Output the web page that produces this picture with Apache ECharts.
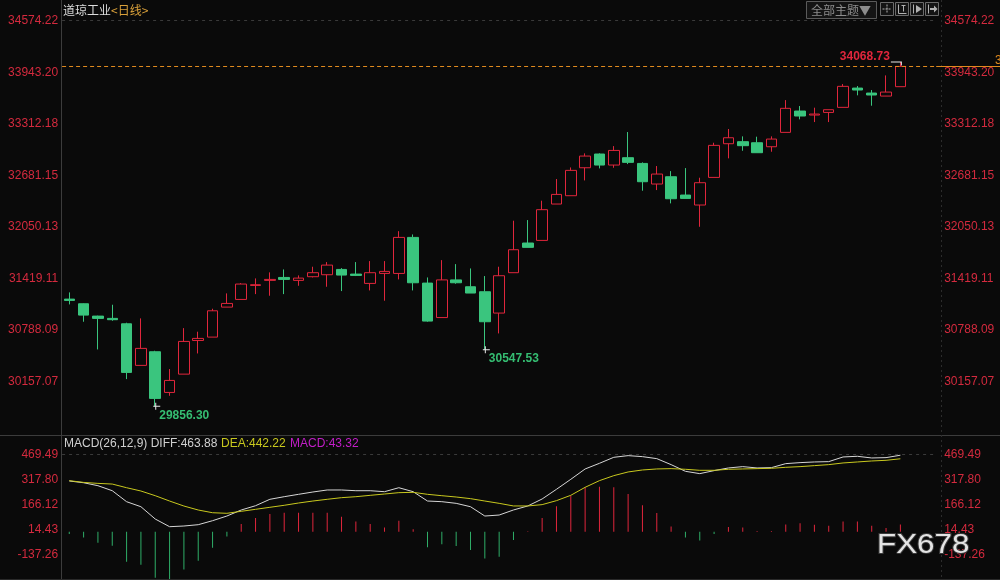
<!DOCTYPE html>
<html>
<head>
<meta charset="utf-8">
<script src="https://cdn.jsdelivr.net/npm/echarts@6/dist/echarts.min.js"></script>
<style>
html,body{margin:0;padding:0;background:#0a0a0a;}
#c{width:1000px;height:580px;}
</style>
</head>
<body>
<div id="c"></div>
<script>
// ---------- data ----------
const categories = ['1','2','3','4','5','6','7','8','9','10','11','12','13','14','15','16','17','18','19','20',
  '21','22','23','24','25','26','27','28','29','30','31','32','33','34','35','36','37','38','39','40',
  '41','42','43','44','45','46','47','48','49','50','51','52','53','54','55','56','57','58','59','60','61'];

const opens  = [31168,31111,30960,30932,30866,30357,30524,30026,30250,30662,
                30703,31070,31164,31335,31397,31433,31397,31442,31466,31531,
                31474,31360,31482,31482,31923,31364,30942,31403,31319,31258,
                30997,31491,31854,31886,32331,32433,32775,32943,32808,32898,
                32828,32576,32665,32441,32319,32657,33069,33094,33081,33032,
                33208,33469,33420,33452,33514,33750,33689,33652,33767];
const closes = [31152,30972,30932,30916,30271,30565,29953,30173,30650,30687,
                31025,31115,31352,31344,31409,31409,31425,31491,31584,31462,
                31458,31491,31507,31923,31368,30899,31403,31368,31242,30891,
                31454,31772,31801,32262,32449,32743,32918,32808,32987,32841,
                32604,32698,32396,32400,32592,33049,33142,33045,32959,33126,
                33502,33408,33432,33485,33771,33726,33665,33701,34015];
const lows   = [31103,30891,30552,30903,30189,30357,29856.30,29985,30250,30503,
                30703,31070,31164,31229,31209,31229,31331,31433,31319,31266,
                31450,31274,31148,31409,31274,30891,30942,31356,31242,30547.53,
                30748,31491,31801,31886,32331,32433,32620,32767,32775,32820,
                32494,32502,32339,32400,32053,32657,32890,32983,32959,32971,
                33208,33367,33334,33334,33514,33661,33534,33652,33767];
const highs  = [31250,31115,30965,31099,30879,30932,30536,30312,30813,30769,
                31050,31238,31364,31421,31495,31531,31458,31564,31621,31547,
                31621,31633,31633,31999,31959,31433,31645,31596,31543,31450,
                31564,32127,32135,32372,32637,32779,32951,32951,33040,33212,
                32841,32796,32734,32771,32653,33081,33249,33159,33155,33159,
                33603,33530,33510,33485,33799,33775,33726,33905,34068.73];

const diffValues = [307.5,297,279,248.6,181.9,151.5,76.8,30.2,34.4,42.4,
                    66.6,95,131.5,157.6,196.4,212.3,226.7,240.7,252.9,253,
                    248.6,248.6,242.6,266.8,242.6,186,182,172,151.5,95,
                    101,131.7,156,198.4,257.1,317.8,380.5,414.9,451.3,461.4,
                    455.3,443.2,406.8,366.3,352.2,370.4,386.6,394.7,386.6,388.6,
                    412.9,418.9,423,425,453.3,457.4,447.2,449.3,463.88];
const deaValues  = [309.5,299,293,289,266.8,246.8,218.3,186,155.7,131.5,
                    115,111.5,123.6,135.7,147.9,160,174,186,196.4,206.4,
                    212.3,220.5,228.6,236.7,238.7,226.7,218.3,210.4,200.4,186,
                    172,156,156,164.1,188.3,220.7,269.2,309.7,340,362.3,
                    374.4,380.5,382.5,378.5,372.4,372.4,378.5,380.5,382.5,384.5,
                    390.6,394.7,400.7,406.8,416.9,423,429,433.1,442.22];
const macdValues = [-14,-36,-67,-85,-182,-200,-279,-287,-229,-176,
                    -97,-30,46,83,107,115,115,115,115,91,
                    61,47,26,67,14,-95,-77,-87,-111,-162,
                    -152,-51,3,83,154,218,269,273,269,229,
                    160,113,32,-36,-53,-14,28,26,4,4,
                    44,51,42,36,61,61,36,22,43.32];

const priceTickLabels = ['30157.07','30788.09','31419.11','32050.13','32681.15','33312.18','33943.20','34574.22'];
const macdTickLabels  = ['-137.26','14.43','166.12','317.80','469.49'];

const extremeHigh = [{index:58, value:34068.73}];
const extremeLows = [{index:29, value:30547.53},{index:6, value:29856.30}];

const macdHeader = {diff:'463.88', dea:'442.22', macd:'43.32'};

// ---------- styles ----------
const BG = '#0a0a0a';
const RED = '#e0263c';
const GREEN = '#3ac57e';
const HGREEN = '#2fae68';
const AXRED = '#d42a3e';
const FONT = '"Liberation Sans", Arial, sans-serif';
const CJK = '"Noto Sans CJK SC", sans-serif';

const priceMax = parseFloat(priceTickLabels[priceTickLabels.length-1]);
const priceStep = (priceMax - parseFloat(priceTickLabels[0])) / (priceTickLabels.length-1);
const priceMin = parseFloat(priceTickLabels[0]) - priceStep;
const macdMax = parseFloat(macdTickLabels[macdTickLabels.length-1]);
const macdStep = (macdMax - parseFloat(macdTickLabels[0])) / (macdTickLabels.length-1);
const macdMin = parseFloat(macdTickLabels[0]) - macdStep;

function labelFrom(list){
  return function(v){
    for (const s of list){ if (Math.abs(parseFloat(s) - v) < 0.05) return s; }
    return '';
  };
}

const GL = 62.1, GW = 874.1;

const candleData = opens.map((o,i)=>[o, closes[i], lows[i], highs[i]]);
const lastIdx = closes.length - 1;

function yAxisCfg(grid, pos, min, max, step, list){
  return {
    type:'value', gridIndex:grid, position:pos, min:min, max:max, interval:step, scale:true,
    axisLine:{show:false}, axisTick:{show:false}, splitLine:{show:false},
    axisLabel:{color:AXRED, fontSize:12, fontFamily:FONT, margin: pos==='left'?4:8,
      align: pos==='left'?'right':'left', formatter: labelFrom(list)}
  };
}
function xAxisCfg(grid){
  return {type:'category', gridIndex:grid, data:categories, boundaryGap:true,
    axisLine:{show:false}, axisTick:{show:false}, axisLabel:{show:false}, splitLine:{show:false}};
}

const markPts = [];
extremeHigh.forEach(m=>markPts.push({
  coord:[m.index, m.value], value:m.value.toFixed(2),
  symbol:'path://M0,0h11v1h-11z M10,0h1v4h-1z', symbolSize:[11,4], symbolOffset:[-4,1.5],
  itemStyle:{color:'#e8e8e8'},
  label:{show:true, position:'left', distance:1, offset:[0,-7], color:RED, fontSize:12, fontWeight:'bold', fontFamily:FONT, formatter:'{c}'}
}));
extremeLows.forEach(m=>markPts.push({
  coord:[m.index, m.value], value:m.value.toFixed(2),
  symbol:'path://M0,3h7v1h-7z M2,0h1v7h-1z', symbolSize:[7,7], symbolOffset:[1.5,0],
  itemStyle:{color:'#e8e8e8'},
  label:{show:true, position:'right', distance:0, offset:[-1,9], color:'#35bd72', fontSize:12, fontWeight:'bold', fontFamily:FONT, formatter:'{c}'}
}));

const option = {
  backgroundColor: BG,
  animation:false,
  grid:[
    {left:GL, width:GW, top:20.7, height:412.6},
    {left:GL, width:GW, top:454.3, height:125}
  ],
  xAxis:[xAxisCfg(0), xAxisCfg(1)],
  yAxis:[
    yAxisCfg(0,'left',priceMin,priceMax,priceStep,priceTickLabels),
    yAxisCfg(0,'right',priceMin,priceMax,priceStep,priceTickLabels),
    yAxisCfg(1,'left',macdMin,macdMax,macdStep,macdTickLabels),
    yAxisCfg(1,'right',macdMin,macdMax,macdStep,macdTickLabels)
  ],
  series:[
    {
      type:'candlestick', xAxisIndex:0, yAxisIndex:0, data:candleData, barWidth:11,
      itemStyle:{color:BG, color0:GREEN, borderColor:RED, borderColor0:GREEN, borderWidth:1},
      markLine:{silent:true, symbol:'none', label:{show:false},
        data:[
          {yAxis: closes[lastIdx], lineStyle:{color:'#e08a1e', type:[4,3], width:1}},
          {yAxis: priceMax, lineStyle:{color:'#3a3a3a', type:[3,4], width:1}}
        ]},
      markPoint:{silent:true, data:markPts}
    },
    {
      type:'bar', xAxisIndex:1, yAxisIndex:2, barWidth:1,
      data: macdValues.map(v=>({value:v, itemStyle:{color: v>=0?RED:HGREEN}})),
      markLine:{silent:true, symbol:'none', label:{show:false},
        data:[{yAxis: macdMax, lineStyle:{color:'#3a3a3a', type:[3,4], width:1}}]}
    },
    {type:'line', xAxisIndex:1, yAxisIndex:2, data:diffValues, symbol:'none',
      lineStyle:{color:'#d6d6d6', width:1}},
    {type:'line', xAxisIndex:1, yAxisIndex:2, data:deaValues, symbol:'none',
      lineStyle:{color:'#c8c81e', width:1}}
  ]
};

const chart = echarts.init(document.getElementById('c'), null, {renderer:'canvas'});
chart.setOption(option);

// ---------- decorations ----------
const yClose = chart.convertToPixel({yAxisIndex:0}, closes[lastIdx]);
const gRight = GL + GW;
const lineStyle = c => ({stroke:c, lineWidth:1});
const g = [];
// frame lines
g.push({type:'line', shape:{x1:61.5,y1:0,x2:61.5,y2:580}, style:lineStyle('#3c3c3c'), silent:true});
g.push({type:'line', shape:{x1:0,y1:435.5,x2:1000,y2:435.5}, style:lineStyle('#3c3c3c'), silent:true});
g.push({type:'line', shape:{x1:0,y1:579.5,x2:1000,y2:579.5}, style:lineStyle('#2a2a2a'), silent:true});
g.push({type:'line', shape:{x1:941.5,y1:0,x2:941.5,y2:580}, style:{stroke:'#2c2c2c', lineWidth:1, lineDash:[2,3]}, silent:true});
// orange close extension
g.push({type:'line', shape:{x1:gRight,y1:Math.round(yClose)+0.5,x2:1000,y2:Math.round(yClose)+0.5}, style:lineStyle('#e08a1e'), silent:true});
g.push({type:'text', x:995, y:yClose-6, style:{text:'3', fill:'#e08a1e', font:'12px '+FONT, verticalAlign:'middle'}, silent:true});
// title
g.push({type:'text', x:63, y:10, style:{
  text:'{a|道琼工业}{b|<日线>}', verticalAlign:'middle',
  rich:{a:{fill:'#dcdcdc', font:'12px '+CJK}, b:{fill:'#d9a03a', font:'12px '+CJK}}
}, silent:true});
// macd header
g.push({type:'text', x:64, y:444, style:{text:'MACD(26,12,9) DIFF:'+macdHeader.diff, fill:'#d0d0d0', font:'12px '+FONT, verticalAlign:'middle'}, silent:true});
g.push({type:'text', x:221, y:444, style:{text:'DEA:'+macdHeader.dea, fill:'#c8c81e', font:'12px '+FONT, verticalAlign:'middle'}, silent:true});
g.push({type:'text', x:290, y:444, style:{text:'MACD:'+macdHeader.macd, fill:'#c21ec8', font:'12px '+FONT, verticalAlign:'middle'}, silent:true});
// top-right buttons
g.push({type:'rect', shape:{x:806.5,y:1.5,width:70,height:17}, style:{fill:'#141414', stroke:'#5a5a5a', lineWidth:1}, silent:true});
g.push({type:'text', x:841, y:10.5, style:{text:'全部主题▼', fill:'#8c8c8c', font:'12px '+CJK, align:'center', verticalAlign:'middle'}, silent:true});
const ix = [880.5, 895.5, 910.5, 925.5];
ix.forEach((x)=>{
  g.push({type:'rect', shape:{x:x,y:2.5,width:13,height:13}, style:{fill:'#141414', stroke:'#6a6a6a', lineWidth:1}, silent:true});
});
const ic = '#b0b0b0';
// icon 1 crosshair
g.push({type:'line', shape:{x1:882.5,y1:9,x2:891.5,y2:9}, style:{stroke:ic,lineWidth:1,lineDash:[2,1]}, silent:true});
g.push({type:'line', shape:{x1:887,y1:4.5,x2:887,y2:13.5}, style:{stroke:ic,lineWidth:1,lineDash:[2,1]}, silent:true});
// icon 2
g.push({type:'line', shape:{x1:898.5,y1:4.5,x2:898.5,y2:13.5}, style:lineStyle(ic), silent:true});
g.push({type:'line', shape:{x1:898.5,y1:13.5,x2:906.5,y2:13.5}, style:lineStyle(ic), silent:true});
g.push({type:'line', shape:{x1:901.5,y1:5.5,x2:905.5,y2:5.5}, style:lineStyle(ic), silent:true});
g.push({type:'line', shape:{x1:903.5,y1:5.5,x2:903.5,y2:11.5}, style:lineStyle(ic), silent:true});
// icon 3
g.push({type:'line', shape:{x1:913.5,y1:4.5,x2:913.5,y2:13.5}, style:lineStyle(ic), silent:true});
g.push({type:'polygon', shape:{points:[[916,5],[922,9],[916,13]]}, style:{fill:ic}, silent:true});
// icon 4
g.push({type:'line', shape:{x1:928.5,y1:4.5,x2:928.5,y2:13.5}, style:lineStyle(ic), silent:true});
g.push({type:'line', shape:{x1:930,y1:9,x2:936,y2:9}, style:{stroke:ic,lineWidth:2}, silent:true});
g.push({type:'polygon', shape:{points:[[934,5.5],[937.5,9],[934,12.5]]}, style:{fill:ic}, silent:true});
// watermark
g.push({type:'text', x:877, y:545, scaleX:1.12, originX:0, originY:0, style:{x:0, y:0, text:'FX678', fill:'#e4e4e4', stroke:'#3a3a3a', lineWidth:2, font:'28px '+FONT, verticalAlign:'middle'}, silent:true, z:100});

chart.setOption({graphic: g});
</script>
</body>
</html>
